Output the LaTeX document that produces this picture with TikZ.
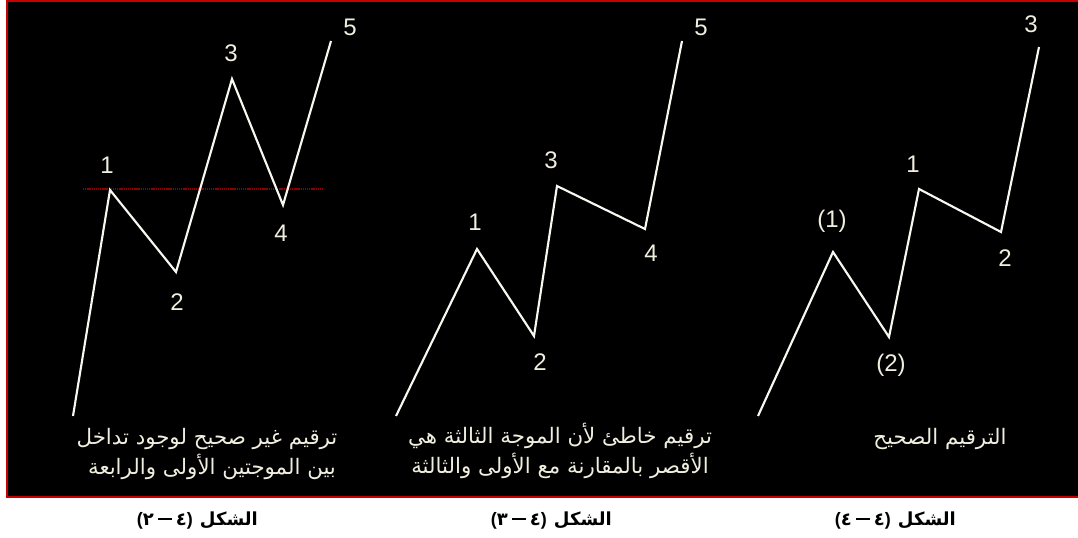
\documentclass[tikz,border=0pt]{standalone}
\usepackage{fontspec}
\setmainfont{Liberation Sans}
\newfontfamily\arabicfont[Script=Arabic]{DejaVu Sans}
\TeXXeTstate=1
\usepackage{xcolor}
\usetikzlibrary{positioning}

\definecolor{panelred}{RGB}{200,0,0}
\definecolor{overlapred}{RGB}{140,0,0}
\definecolor{wavewhite}{RGB}{248,248,240}
\definecolor{textcream}{RGB}{240,238,222}

% dash of the captions
\newcommand{\capdash}{\hspace{3pt}\rule[3.6pt]{10.5pt}{1.8pt}\hspace{3pt}}

\tikzset{
  wave/.style={draw=wavewhite, line width=1.6pt},
  lbl/.style={text=textcream, font=\fontsize{18}{20}\selectfont, inner sep=0pt},
  note/.style={text=textcream, font=\arabicfont\fontsize{16}{18}\selectfont, inner sep=0pt, anchor=base},
  figcap/.style={text=black, font=\arabicfont\bfseries\fontsize{13.5}{15}\selectfont, inner sep=0pt, anchor=base east}
}

\begin{document}
\begin{tikzpicture}[x=0.75pt, y=-0.75pt]
  \useasboundingbox (0,0) rectangle (1078,538);
  \fill[white] (0,0) rectangle (1078,538);

  % --- Black panel with red frame ---
  \fill[panelred] (6,0) rectangle (1078,497.5);
  \fill[black] (7.5,2.5) rectangle (1078,495.5);

  % --- Left: wrong count, waves 1 and 4 overlap ---
  \coordinate (a0) at (73,416);
  \coordinate (a1) at (110,190);
  \coordinate (a2) at (176,272);
  \coordinate (a3) at (232,79);
  \coordinate (a4) at (283,205);
  \coordinate (a5) at (331,41);
  \draw[overlapred, line width=1pt, dash pattern=on 1pt off 0.6pt] (83,189) -- (324,189);
  \draw[wave] (a0) -- (a1) -- (a2) -- (a3) -- (a4) -- (a5);
  \node[lbl] (la1) at (107,165) {1};
  \node[lbl] (la2) at (177,302) {2};
  \node[lbl] (la3) at (231,53) {3};
  \node[lbl] (la4) at (281,233) {4};
  \node[lbl] (la5) at (350,27) {5};
  \node[note] (na1) at (207,444) {\beginR ترقيم غير صحيح لوجود تداخل\endR};
  \node[note] (na2) at (212,474) {\beginR بين الموجتين الأولى والرابعة\endR};

  % --- Middle: wrong count, wave 3 the shortest ---
  \coordinate (b0) at (396,416);
  \coordinate (b1) at (477,249);
  \coordinate (b2) at (534,336);
  \coordinate (b3) at (557,186);
  \coordinate (b4) at (645,229);
  \coordinate (b5) at (682,41);
  \draw[wave] (b0) -- (b1) -- (b2) -- (b3) -- (b4) -- (b5);
  \node[lbl] (lb1) at (475,222) {1};
  \node[lbl] (lb2) at (540,362) {2};
  \node[lbl] (lb3) at (551,160) {3};
  \node[lbl] (lb4) at (651,253) {4};
  \node[lbl] (lb5) at (701,27) {5};
  \node[note] (nb1) at (560,443) {\beginR ترقيم خاطئ لأن الموجة الثالثة هي\endR};
  \node[note] (nb2) at (560,473) {\beginR الأقصر بالمقارنة مع الأولى والثالثة\endR};

  % --- Right: correct count ---
  \coordinate (c0) at (758,416);
  \coordinate (c1) at (833,252);
  \coordinate (c2) at (889,337);
  \coordinate (c3) at (919,189);
  \coordinate (c4) at (1001,232);
  \coordinate (c5) at (1039,47);
  \draw[wave] (c0) -- (c1) -- (c2) -- (c3) -- (c4) -- (c5);
  \node[lbl] (lc1) at (832,221) {(1)};
  \node[lbl] (lc2) at (891,365) {(2)};
  \node[lbl] (lc3) at (913,164) {1};
  \node[lbl] (lc4) at (1005,258) {2};
  \node[lbl] (lc5) at (1031,24) {3};
  \node[note] (nc1) at (940,444) {\beginR الترقيم الصحيح\endR};

  % --- Captions ---
  \node[figcap] (capAw) at (258,525) {الشكل};
  \node[figcap] (capAn) at ([xshift=-5pt]capAw.base west) {\rmfamily(\arabicfont ٢\capdash ٤\rmfamily)};
  \node[figcap] (capBw) at (612,525) {الشكل};
  \node[figcap] (capBn) at ([xshift=-5pt]capBw.base west) {\rmfamily(\arabicfont ٣\capdash ٤\rmfamily)};
  \node[figcap] (capCw) at (956,525) {الشكل};
  \node[figcap] (capCn) at ([xshift=-5pt]capCw.base west) {\rmfamily(\arabicfont ٤\capdash ٤\rmfamily)};
\end{tikzpicture}
\end{document}
